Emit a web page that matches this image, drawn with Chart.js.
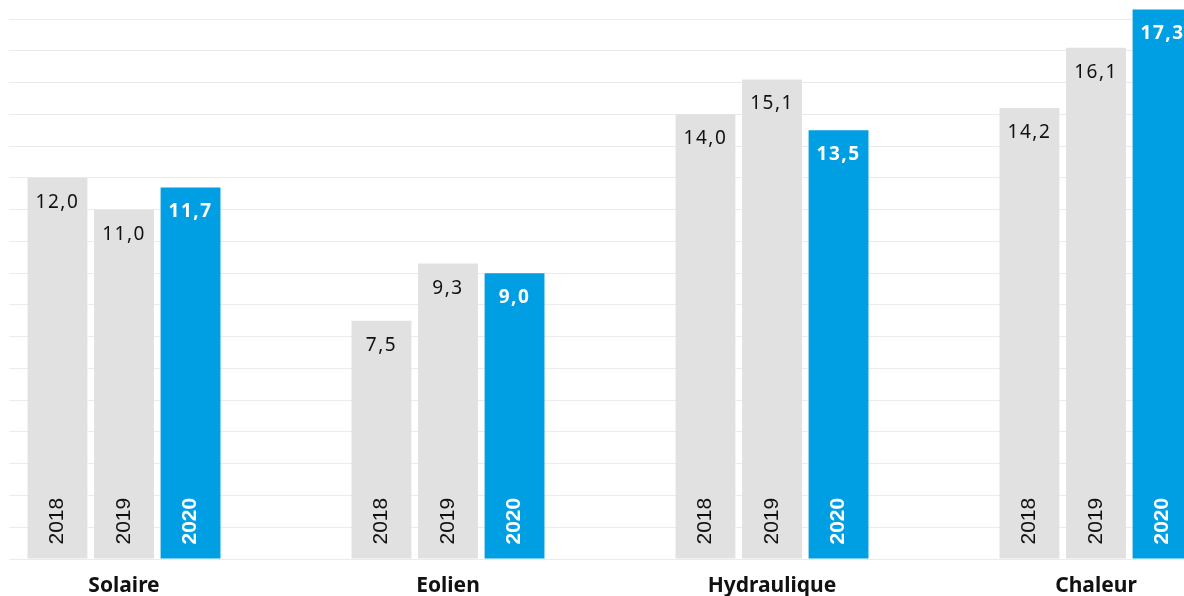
<!DOCTYPE html>
<html lang="fr">
<head>
  <meta charset="UTF-8">
  <title>Chart</title>
  <script src="https://cdn.jsdelivr.net/npm/chart.js"></script>
  <style>
    html, body {
      margin: 0;
      width: 1184px;
      height: 596px;
      overflow: hidden;
      background: #fff;
    }
    #c {
      position: absolute;
      left: -38px;
      top: 0;
    }
  </style>
</head>
<body>
  <canvas id="c" width="1296" height="596"></canvas>
  <script>
    const categories = ['Solaire', 'Eolien', 'Hydraulique', 'Chaleur'];
    const years = ['2018', '2019', '2020'];
    const v2018 = [12.0, 7.5, 14.0, 14.2];
    const v2019 = [11.0, 9.3, 15.1, 16.1];
    const v2020 = [11.7, 9.0, 13.5, 17.3];

    const grey = '#e1e1e1';
    const blue = '#009fe3';

    const fmt = v => v.toFixed(1).replace('.', ',');

    // labels inside the bars: value at the top, year rotated at the bottom
    const barLabels = {
      id: 'barLabels',
      beforeDatasetsDraw(chart) {
        // gridlines start a little right of the page edge
        const ctx = chart.ctx;
        ctx.save();
        ctx.fillStyle = '#fff';
        ctx.fillRect(0, 0, 47, chart.chartArea.bottom + 2);
        ctx.restore();
      },
      afterDatasetsDraw(chart) {
        const ctx = chart.ctx;
        chart.data.datasets.forEach((ds, d) => {
          const last = d === 2;
          const meta = chart.getDatasetMeta(d);
          meta.data.forEach((bar, i) => {
            ctx.save();
            ctx.fillStyle = last ? '#fff' : '#111';
            ctx.textAlign = 'center';
            ctx.textBaseline = 'middle';
            ctx.letterSpacing = '1.5px';
            ctx.font = (last ? 'bold ' : '') + '19px "Noto Sans"';
            ctx.fillText(fmt(ds.data[i]), bar.x, bar.y + 24.5);
            ctx.restore();

            ctx.save();
            ctx.translate(bar.x, bar.base - 14);
            ctx.rotate(-Math.PI / 2);
            ctx.fillStyle = last ? '#fff' : '#111';
            ctx.textAlign = 'left';
            ctx.textBaseline = 'middle';
            ctx.font = (last ? 'bold ' : '') + '21px "Liberation Sans"';
            ctx.fillText(years[d], 0, 0);
            ctx.restore();
          });
        });
      }
    };

    new Chart(document.getElementById('c'), {
      type: 'bar',
      data: {
        labels: categories,
        datasets: [
          { label: years[0], data: v2018, backgroundColor: grey },
          { label: years[1], data: v2019, backgroundColor: grey },
          { label: years[2], data: v2020, backgroundColor: blue }
        ]
      },
      options: {
        responsive: false,
        maintainAspectRatio: false,
        animation: false,
        layout: { padding: 0 },
        datasets: {
          bar: { barPercentage: 0.9, categoryPercentage: 0.616 }
        },
        plugins: {
          legend: { display: false },
          tooltip: { enabled: false }
        },
        scales: {
          x: {
            grid: { display: false, drawTicks: false },
            border: { display: false },
            ticks: {
              color: '#111',
              padding: 14,
              font: { family: 'Noto Sans', size: 21, weight: 'bold' }
            },
            afterFit: s => { s.height = 37; }
          },
          y: {
            min: 0,
            max: 17.6,
            grid: { color: '#ebebeb', lineWidth: 1, drawTicks: false },
            border: { display: false },
            ticks: { display: false, stepSize: 1, includeBounds: false },
            afterFit: s => { s.width = 0; }
          }
        }
      },
      plugins: [barLabels]
    });
  </script>
</body>
</html>
